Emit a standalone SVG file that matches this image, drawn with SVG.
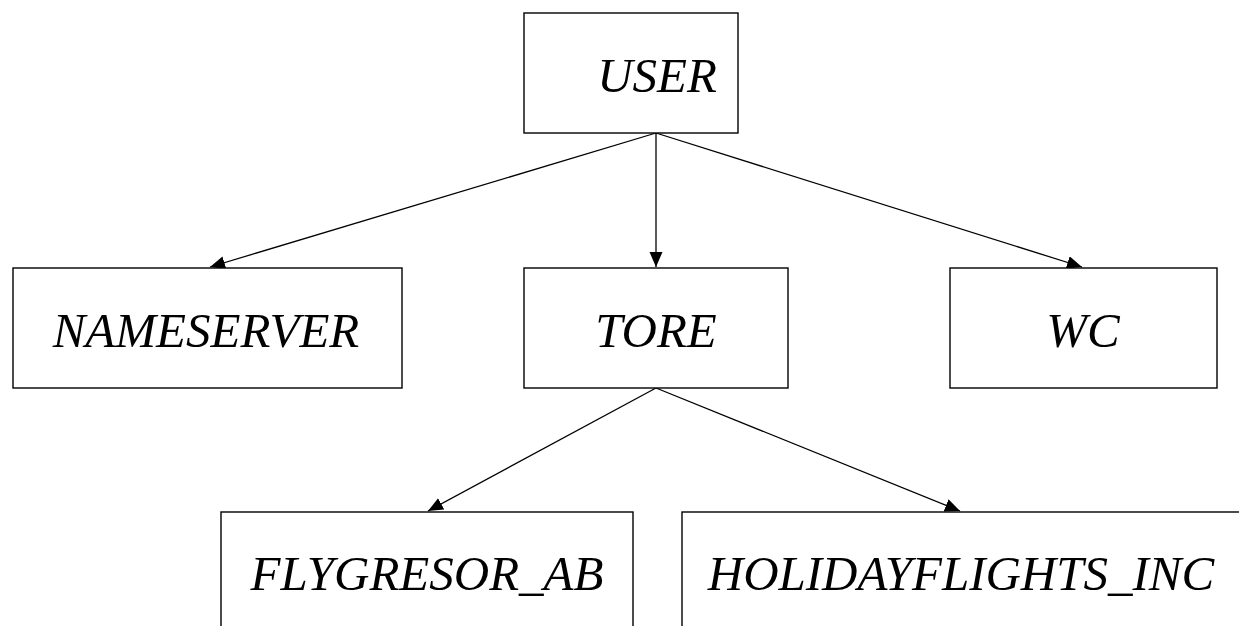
<svg xmlns="http://www.w3.org/2000/svg" width="1239" height="626" viewBox="0 0 1239 626">
  <style>
    .box { fill: #ffffff; stroke: #000000; stroke-width: 1.4; }
    .label { font-family: "Liberation Serif", "Times New Roman", serif; font-style: italic; font-size: 49px; fill: #000000; text-anchor: middle; }
    .edge { fill: none; stroke: #000000; stroke-width: 1.3; marker-end: url(#arrow); }
  </style>
  <defs>
    <marker id="arrow" markerUnits="userSpaceOnUse" markerWidth="17" markerHeight="14" refX="15" refY="6.5" orient="auto">
      <path d="M0,0 L15,6.5 L0,13 Z" fill="#000000"/>
    </marker>
  </defs>
  <rect width="1239" height="626" fill="#ffffff"/>

  <g id="connectors">
    <line class="edge" x1="656" y1="133" x2="210" y2="267"/>
    <line class="edge" x1="656" y1="133" x2="656" y2="267"/>
    <line class="edge" x1="656" y1="133" x2="1082" y2="267"/>
    <line class="edge" x1="656" y1="388" x2="428" y2="511"/>
    <line class="edge" x1="656" y1="388" x2="960" y2="511"/>
  </g>

  <g id="user">
    <rect class="box" x="524" y="13" width="214" height="120"/>
    <text class="label" x="657" y="92">USER</text>
  </g>
  <g id="nameserver">
    <rect class="box" x="13" y="268" width="389" height="120"/>
    <text class="label" x="206" y="347">NAMESERVER</text>
  </g>
  <g id="tore">
    <rect class="box" x="524" y="268" width="264" height="120"/>
    <text class="label" x="656" y="347">TORE</text>
  </g>
  <g id="wc">
    <rect class="box" x="950" y="268" width="267" height="120"/>
    <text class="label" x="1083" y="347">WC</text>
  </g>
  <g id="flygresor_ab">
    <rect class="box" x="221" y="512" width="412" height="140"/>
    <text class="label" x="427" y="590">FLYGRESOR_AB</text>
  </g>
  <g id="holidayflights_inc">
    <rect class="box" x="682" y="512" width="560" height="140"/>
    <text class="label" x="961" y="590">HOLIDAYFLIGHTS_INC</text>
  </g>
</svg>
